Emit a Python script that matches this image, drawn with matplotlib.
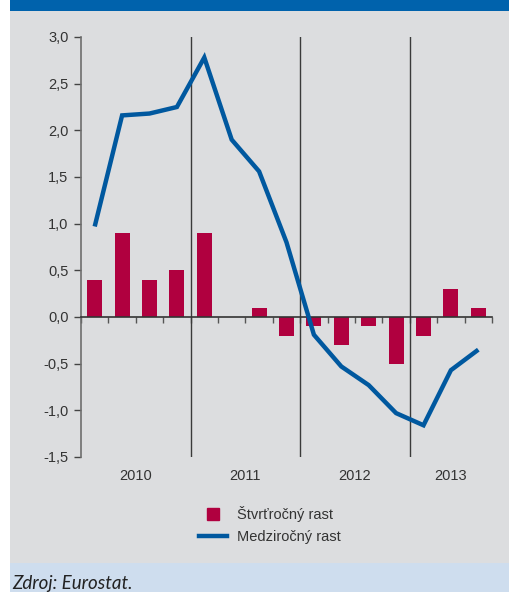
import matplotlib
matplotlib.use("Agg")
import matplotlib.pyplot as plt
from matplotlib.patches import Rectangle
from matplotlib.lines import Line2D
import matplotlib.transforms as mtransforms
import numpy as np

years = ["2010", "2011", "2012", "2013"]
quarters_per_year = [4, 4, 4, 3]
qoq = [0.4, 0.9, 0.4, 0.5, 0.9, 0.0, 0.1, -0.2, -0.1, -0.3, -0.1, -0.5, -0.2, 0.3, 0.1]
yoy = [0.97, 2.16, 2.18, 2.25, 2.78, 1.90, 1.56, 0.80, -0.19, -0.53, -0.73, -1.03, -1.16, -0.57, -0.35]
yticks = [3.0, 2.5, 2.0, 1.5, 1.0, 0.5, 0.0, -0.5, -1.0, -1.5]
legend_labels = ["Štvrťročný rast", "Medziročný rast"]
source = "Zdroj: Eurostat."

BAR = "#B0003F"
LINE = "#00589F"
BG = "#DCDDDF"
FOOT = "#CEDDEE"
HEAD = "#0062AC"

W, H = 510, 592
fig = plt.figure(figsize=(W / 100, H / 100), dpi=100)
fig.patch.set_facecolor("white")

def px(x0, y0, x1, y1):
    return (x0 / W, 1 - y1 / H, (x1 - x0) / W, (y1 - y0) / H)

for (x0, y0, x1, y1), c in [((10, 0, 510, 11), HEAD), ((10, 11, 510, 563), BG), ((10, 563, 510, 592), FOOT)]:
    l, b, w, h = px(x0, y0, x1, y1)
    fig.patches.append(Rectangle((l, b), w, h, transform=fig.transFigure, facecolor=c,
                                 edgecolor="none", zorder=-10))

ax = fig.add_axes(px(81, 37, 492, 457))
ax.set_facecolor("none")
ax.set_zorder(1)

n = len(qoq)
x = np.arange(n) + 0.5
ax.bar(x, qoq, width=0.55, color=BAR, zorder=2)
ax.plot(x, yoy, color=LINE, lw=3.2, zorder=4, solid_capstyle="butt", solid_joinstyle="miter")

ax.set_xlim(0, n)
ax.set_ylim(-1.5, 3.0)

# year separators
bounds = np.cumsum(quarters_per_year)
for b in bounds[:-1]:
    ax.axvline(b, color="#3a3a3a", lw=1.0, zorder=3)

for s in ["top", "right"]:
    ax.spines[s].set_visible(False)
ax.spines["left"].set_color("#6e6e6e")
ax.spines["left"].set_linewidth(1.2)
ax.spines["left"].set_bounds(-1.5, 3.0)
ax.spines["bottom"].set_position(("data", 0))
ax.spines["bottom"].set_color("#333333")
ax.spines["bottom"].set_linewidth(1.2)
ax.spines["bottom"].set_zorder(3)

ax.set_yticks(yticks)
ax.set_yticklabels([f"{v:.1f}".replace(".", ",") for v in yticks], fontsize=10.5,
                   color="#333333", family="Liberation Sans")
ax.tick_params(axis="y", direction="out", length=5, width=1, color="#444444", pad=4)
ax.set_xticks(np.arange(n + 1))
ax.set_xticklabels([])
ax.tick_params(axis="x", direction="out", length=4, width=1, color="#555555")

trans = mtransforms.blended_transform_factory(ax.transData, fig.transFigure)
starts = np.concatenate([[0], bounds[:-1]])
for yr, s, e in zip(years, starts, bounds):
    ax.text((s + e) / 2, 1 - 476 / H, yr, transform=trans, ha="center", va="center",
            fontsize=10.5, color="#333333", family="Liberation Sans")

handles = [Line2D([], [], marker="s", color=BAR, linestyle="none", markersize=8),
           Line2D([], [], color=LINE, lw=3.2)]
fig.legend(handles, legend_labels, loc="center", bbox_to_anchor=(270 / W, 1 - 525 / H),
           frameon=False, prop={"family": "Liberation Sans", "size": 10.5},
           handlelength=1.9, handletextpad=0.7, labelspacing=0.5,
           labelcolor="#333333")

fig.text(12 / W, 1 - 583 / H, source, ha="left", va="center", fontsize=13.5,
         style="italic", family="Lato", color="#222222")

fig.savefig("out.png", dpi=100, facecolor=fig.get_facecolor())
